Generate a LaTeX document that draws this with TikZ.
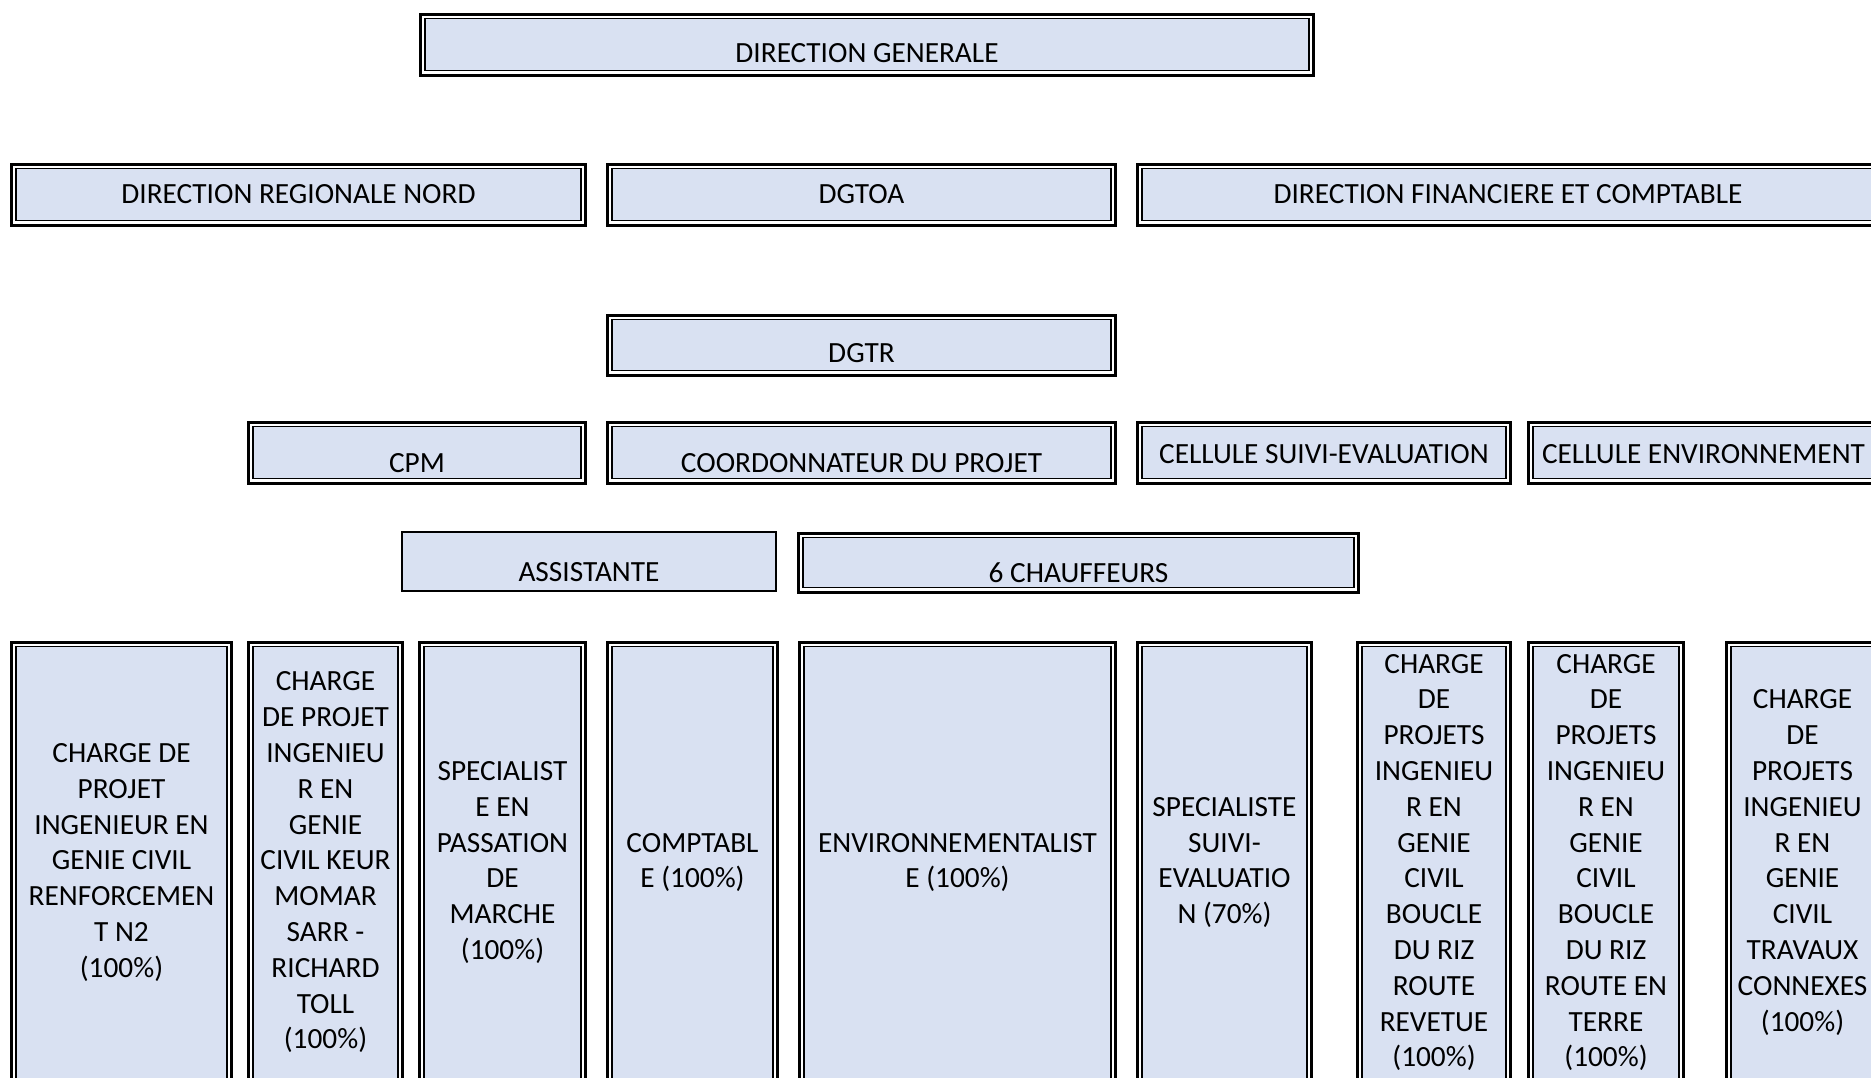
\documentclass[tikz,border=0pt]{standalone}
\usepackage{fontspec}
\setmainfont{Carlito}
\definecolor{unitfill}{HTML}{D9E1F2}

\tikzset{
  orgtext/.style={inner sep=0pt,align=center,font=\fontsize{29.3}{35.8}\selectfont},
  unit/.style={orgtext,rectangle,draw,line width=3pt,fill=white,anchor=north,
    path picture={\draw[line width=1.3pt,fill=unitfill]
      ([shift={(4.5pt,4.5pt)}]path picture bounding box.south west) rectangle
      ([shift={(-4.5pt,-4.5pt)}]path picture bounding box.north east);}},
  plainunit/.style={orgtext,rectangle,draw,line width=1.8pt,fill=unitfill,anchor=north},
  lowtext/.style={text height=41.5pt,text depth=19.5pt},
  hightext/.style={text height=50.8pt,text depth=10.2pt}
}

\begin{document}
\begin{tikzpicture}[x=1pt,y=-1pt]
  \useasboundingbox (0,0) rectangle (1871,1077);
  \clip (0,0) rectangle (1871,1077);
  % top
  \node[unit,minimum width=893,text height=48.3pt,text depth=12.7pt] (dg) at (867,12.5) {DIRECTION GENERALE};
  % directions
  \node[unit,lowtext,text height=39.1pt,text depth=21.9pt,minimum width=574] (drn) at (298.5,162.5) {DIRECTION REGIONALE NORD};
  \node[unit,lowtext,text height=39.1pt,text depth=21.9pt,minimum width=508] (dgtoa) at (861.5,162.5) {DGTOA};
  \node[unit,lowtext,text height=39.1pt,text depth=21.9pt,minimum width=741] (dfc) at (1508,162.5) {DIRECTION FINANCIERE ET COMPTABLE};
  \node[unit,minimum width=508,text height=47.8pt,text depth=12.2pt] (dgtr) at (861.5,313.5) {DGTR};
  % project cells
  \node[unit,hightext,minimum width=337] (cpm) at (417,420.5) {CPM};
  \node[unit,hightext,minimum width=508] (coord) at (861.5,420.5) {COORDONNATEUR DU PROJET};
  \node[unit,lowtext,minimum width=373] (cse) at (1324,420.5) {CELLULE SUIVI-EVALUATION};
  \node[unit,lowtext,minimum width=350] (ce) at (1703.5,420.5) {CELLULE ENVIRONNEMENT};
  % support staff
  \node[plainunit,minimum width=374,text height=49.8pt,text depth=9.2pt] (asst) at (589,531) {ASSISTANTE};
  \node[unit,minimum width=560,text height=49.1pt,text depth=9.9pt] (chauf) at (1078.5,531.5) {6 CHAUFFEURS};
  % staff positions
  \foreach \cx/\w/\txt [count=\i] in {
      121.5/220/{CHARGE DE\\PROJET\\INGENIEUR EN\\GENIE CIVIL\\RENFORCEMEN\\T N2\\(100\%)},
      325.5/154/{CHARGE\\DE PROJET\\INGENIEU\\R EN\\GENIE\\CIVIL KEUR\\MOMAR\\SARR -\\RICHARD\\TOLL\\(100\%)},
      502.5/166/{SPECIALIST\\E EN\\PASSATION\\DE\\MARCHE\\(100\%)},
      692.5/170/{COMPTABL\\E (100\%)},
      957.5/316/{ENVIRONNEMENTALIST\\E (100\%)},
      1224.5/174/{SPECIALISTE\\SUIVI-\\EVALUATIO\\N (70\%)},
      1434/153/{CHARGE\\DE\\PROJETS\\INGENIEU\\R EN\\GENIE\\CIVIL\\BOUCLE\\DU RIZ\\ROUTE\\REVETUE\\(100\%)},
      1606/155/{CHARGE\\DE\\PROJETS\\INGENIEU\\R EN\\GENIE\\CIVIL\\BOUCLE\\DU RIZ\\ROUTE EN\\TERRE\\(100\%)},
      1802.5/152/{CHARGE\\DE\\PROJETS\\INGENIEU\\R EN\\GENIE\\CIVIL\\TRAVAUX\\CONNEXES\\(100\%)}} {
    \node[unit,minimum width=\w,minimum height=441] (poste\i) at (\cx,640.5) {\txt};
  }
\end{tikzpicture}
\end{document}
